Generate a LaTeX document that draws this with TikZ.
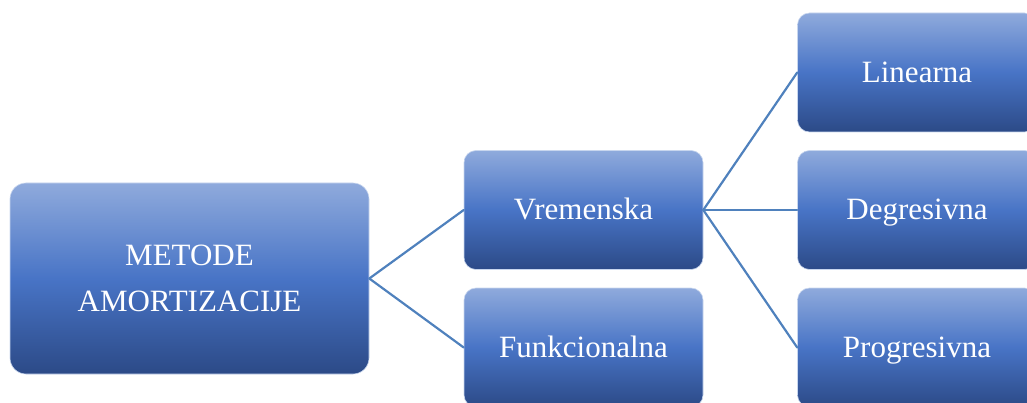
\documentclass[tikz,border=0pt]{standalone}
\usepackage{fontspec}
\setmainfont{Liberation Serif}
\definecolor{boxtop}{RGB}{143,170,220}
\definecolor{boxmid}{RGB}{72,116,198}
\definecolor{boxbot}{RGB}{44,74,135}
\definecolor{boxrim}{RGB}{200,214,238}
\definecolor{linkcol}{RGB}{79,129,189}
\begin{document}
\begin{tikzpicture}[x=1pt,y=-1pt,line join=round,line cap=round,
  every node/.style={text=white,font=\fontsize{31}{46}\selectfont},
  box/.style={rectangle,rounded corners=12pt,draw=boxrim,line width=0.6pt,
    top color=boxtop,bottom color=boxbot,middle color=boxmid,
    minimum width=239pt,minimum height=119pt,inner sep=0pt},
  leaf/.style={box,text height=24pt,text depth=4pt},
  link/.style={draw=linkcol,line width=2.2pt}]
\useasboundingbox (0,0) rectangle (1027,403);
\clip (0,0) rectangle (1027,403);
% root
\node[box,rounded corners=16pt,minimum width=359pt,minimum height=191pt,align=center] (metode) at (189.5,278.5) {METODE\\AMORTIZACIJE};
% first level
\node[leaf] (vrem) at (583.5,210) {Vremenska};
\node[leaf] (funk) at (583.5,347.5) {Funkcionalna};
% second level
\node[leaf] (lin) at (917,72.5) {Linearna};
\node[leaf] (deg) at (917,210) {Degresivna};
\node[leaf] (prog) at (917,347.5) {Progresivna};
\foreach \n in {vrem,funk}{\draw[link] (metode.east) -- (\n.west);}
\foreach \n in {lin,deg,prog}{\draw[link] (vrem.east) -- (\n.west);}
\end{tikzpicture}
\end{document}
